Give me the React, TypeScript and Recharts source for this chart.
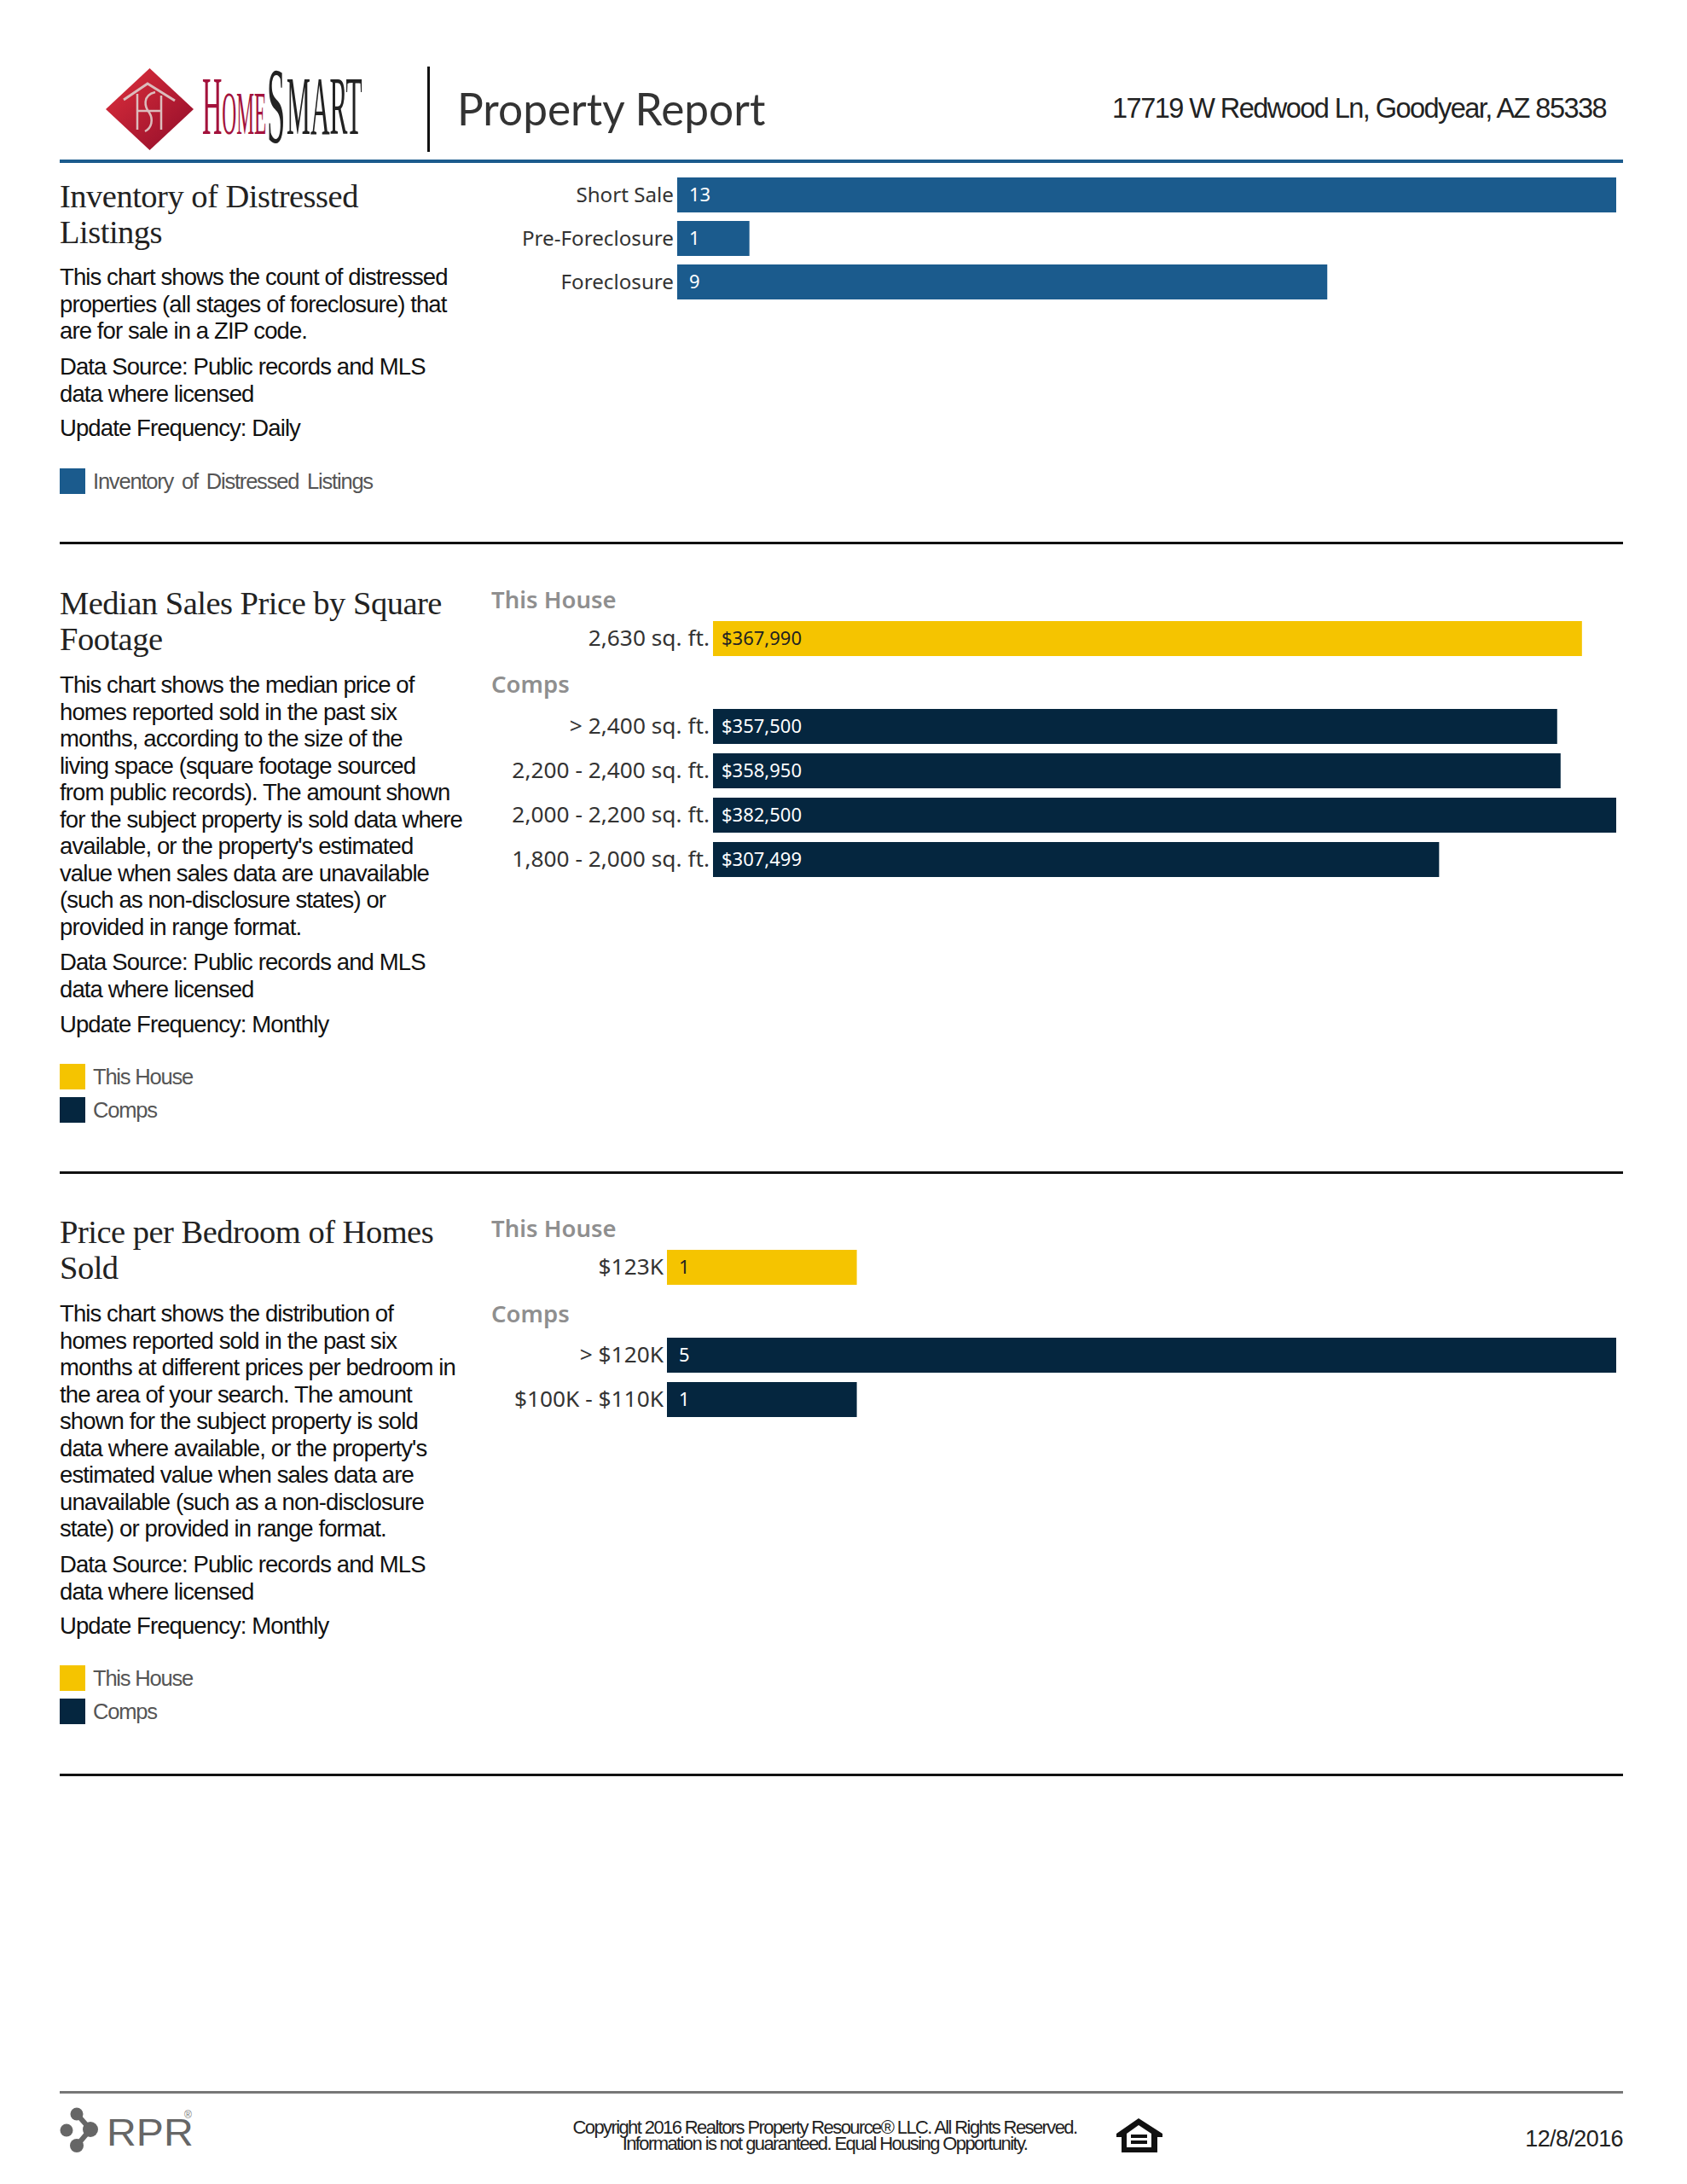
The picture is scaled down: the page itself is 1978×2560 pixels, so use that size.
import React from "react";
import { BarChart, Bar, XAxis, YAxis, LabelList } from "recharts";

const distressedNames = ["Short Sale", "Pre-Foreclosure", "Foreclosure"];
const distressedCounts = [13, 1, 9];

const sqftHouseNames = ["2,630 sq. ft."];
const sqftHousePrices = [367990];
const sqftCompNames = ["> 2,400 sq. ft.", "2,200 - 2,400 sq. ft.", "2,000 - 2,200 sq. ft.", "1,800 - 2,000 sq. ft."];
const sqftCompPrices = [357500, 358950, 382500, 307499];

const bedHouseNames = ["$123K"];
const bedHouseCounts = [1];
const bedCompNames = ["> $120K", "$100K - $110K"];
const bedCompCounts = [5, 1];

const BLUE = "#1b5b8d";
const YELLOW = "#f5c400";
const NAVY = "#05263f";
const SANS = "'Liberation Sans', Arial, sans-serif";
const SERIF = "'Liberation Serif', serif";
const LABEL_FONT = "'Noto Sans', sans-serif";

const money = (v: unknown) => "$" + Number(v).toLocaleString("en-US");

interface HBarsProps {
  top: number;
  axisWidth: number;
  names: string[];
  values: number[];
  max: number;
  fill: string;
  band?: number;
  tickFont?: number;
  labelFill?: string;
  labelOffset?: number;
  format?: (v: unknown) => string;
}

function HBars({ top, axisWidth, names, values, max, fill, band = 52, tickFont = 26.3, labelFill = "#fff", labelOffset = 14, format }: HBarsProps) {
  const data = names.map((name, i) => ({ name, value: values[i] }));
  return (
    <div style={{ position: "absolute", left: 570, top }}>
      <BarChart
        width={1325}
        height={names.length * band}
        data={data}
        layout="vertical"
        margin={{ top: 0, right: 0, bottom: 0, left: 0 }}
      >
        <XAxis type="number" hide domain={[0, max]} />
        <YAxis
          type="category"
          dataKey="name"
          width={axisWidth}
          axisLine={false}
          tickLine={false}
          tickSize={0}
          tickMargin={4}
          interval={0}
          tick={{ fontSize: tickFont, fontFamily: LABEL_FONT, fill: "#333" }}
        />
        <Bar dataKey="value" fill={fill} barSize={41} isAnimationActive={false}>
          <LabelList
            dataKey="value"
            position="insideLeft"
            offset={labelOffset}
            formatter={format}
            style={{ fontSize: 22, fontFamily: LABEL_FONT, fill: labelFill }}
          />
        </Bar>
      </BarChart>
    </div>
  );
}

function Lines({ top, lines, size = 27.5, step = 31.5, spacing = -0.9, font = SANS, color = "#111", left = 70, wordSpacing = 0 }: any) {
  return (
    <>
      {lines.map((line: string, i: number) => (
        <div
          key={i}
          style={{
            position: "absolute",
            left,
            top: top + i * step,
            fontFamily: font,
            fontSize: size,
            lineHeight: `${step}px`,
            letterSpacing: spacing,
            wordSpacing,
            color,
            whiteSpace: "nowrap",
          }}
        >
          {line}
        </div>
      ))}
    </>
  );
}

function Rule({ top, color = "#111", h = 3 }: { top: number; color?: string; h?: number }) {
  return <div style={{ position: "absolute", left: 70, width: 1833, top, height: h, background: color }} />;
}

function Swatch({ top, color, text, wordSpacing = 0 }: { top: number; color: string; text: string; wordSpacing?: number }) {
  return (
    <>
      <div style={{ position: "absolute", left: 70, top, width: 30, height: 30, background: color }} />
      <Lines top={top} left={109} lines={[text]} size={25.5} step={30} color="#555" spacing={-1.2} wordSpacing={wordSpacing} />
    </>
  );
}

function Heading({ top, lines }: { top: number; lines: string[] }) {
  return <Lines top={top} lines={lines} size={38.5} step={42} font={SERIF} spacing={-0.5} color="#222" />;
}

function GroupTitle({ top, text }: { top: number; text: string }) {
  return (
    <div style={{ position: "absolute", left: 576, top, fontFamily: LABEL_FONT, fontWeight: 600, fontSize: 27.5, lineHeight: "34px", color: "#8f8f8f" }}>
      {text}
    </div>
  );
}

function Logo() {
  return (
    <svg style={{ position: "absolute", left: 0, top: 0 }} width={520} height={190}>
      <defs>
        <linearGradient id="dia" x1="0" y1="0" x2="1" y2="1">
          <stop offset="0" stopColor="#e0303c" />
          <stop offset="1" stopColor="#8f0c2a" />
        </linearGradient>
      </defs>
      <polygon points="175.5,80 227,128 175.5,176 124,128" fill="url(#dia)" />
      <path d="M145,117 L173,98 L205,118" fill="none" stroke="#dcbcbc" strokeWidth={3} />
      <g fill="none" stroke="#dcbcbc" strokeWidth={2.5}>
        <path d="M161,110 L161,152" />
        <path d="M189,112 L189,152" />
        <path d="M161,130 L189,130" />
        <path d="M182,108 C166,112 170,126 175,132 C180,140 178,150 170,154" />
      </g>
      <g transform="translate(237,157) scale(0.33,1)" fontFamily={SERIF} fill="#a3123c">
        <text x={0} y={0} fontSize={98}>
          H<tspan fontSize={71}>OME</tspan>
        </text>
      </g>
      <g transform="translate(313,167) scale(0.3,1)" fontFamily={SERIF} fill="#222">
        <text x={0} y={0} fontSize={128}>
          S
        </text>
      </g>
      <g transform="translate(336,157) scale(0.32,1)" fontFamily={SERIF} fill="#222">
        <text x={0} y={0} fontSize={98}>
          MART
        </text>
      </g>
      <rect x={501} y={78} width={3} height={100} fill="#111" />
    </svg>
  );
}

function RprLogo() {
  return (
    <svg style={{ position: "absolute", left: 60, top: 2460 }} width={180} height={70}>
      <g fill="#666">
        <circle cx={30} cy={18} r={7.5} />
        <circle cx={18} cy={37} r={7.5} />
        <circle cx={46} cy={36} r={9} />
        <circle cx={30} cy={55} r={8} />
      </g>
      <path d="M30,18 L46,36 L30,55" fill="none" stroke="#666" strokeWidth={6} />
      <g transform="translate(65,55) scale(1.07,1)">
        <text x={0} y={0} fontFamily={SANS} fontSize={45} fill="#666">
          RPR
        </text>
      </g>
      <text x={156} y={23} fontFamily={SANS} fontSize={12} fill="#777">
        ®
      </text>
    </svg>
  );
}

function HousingIcon() {
  return (
    <svg style={{ position: "absolute", left: 1300, top: 2480 }} width={72} height={50}>
      <path d="M35,3 L63,21 L63,25 L57,25 L57,43 L15,43 L15,25 L9,25 L9,21 Z" fill="#111" />
      <path d="M35,11 L50,21 L50,37 L21,37 L21,21 Z" fill="#fff" />
      <rect x={26} y={22} width={19} height={4} fill="#111" />
      <rect x={26} y={29} width={19} height={4} fill="#111" />
    </svg>
  );
}

export default function App() {
  return (
    <div style={{ position: "absolute", left: 0, top: 0, width: 1978, height: 2560, background: "#fff", overflow: "hidden" }}>
      <Logo />
      <div style={{ position: "absolute", left: 536, top: 92, fontFamily: "Lato, sans-serif", fontSize: 51.4, lineHeight: "70px", color: "#333" }}>
        Property Report
      </div>
      <div style={{ position: "absolute", right: 95, top: 106, fontFamily: SANS, fontSize: 32.5, lineHeight: "42px", letterSpacing: -1.55, color: "#222" }}>
        17719 W Redwood Ln, Goodyear, AZ 85338
      </div>
      <Rule top={187} color={BLUE} h={4} />

      <Heading top={209} lines={["Inventory of Distressed", "Listings"]} />
      <Lines top={309} lines={["This chart shows the count of distressed", "properties (all stages of foreclosure) that", "are for sale in a ZIP code."]} />
      <Lines top={414} lines={["Data Source: Public records and MLS", "data where licensed"]} />
      <Lines top={486} lines={["Update Frequency: Daily"]} />
      <Swatch top={549} color={BLUE} text="Inventory of Distressed Listings" wordSpacing={4} />
      <HBars top={203} axisWidth={224} names={distressedNames} values={distressedCounts} max={13} fill={BLUE} band={51} tickFont={24.2} />
      <Rule top={635} />

      <Heading top={686} lines={["Median Sales Price by Square", "Footage"]} />
      <Lines
        top={787}
        lines={[
          "This chart shows the median price of",
          "homes reported sold in the past six",
          "months, according to the size of the",
          "living space (square footage sourced",
          "from public records). The amount shown",
          "for the subject property is sold data where",
          "available, or the property's estimated",
          "value when sales data are unavailable",
          "(such as non-disclosure states) or",
          "provided in range format.",
        ]}
      />
      <Lines top={1112} lines={["Data Source: Public records and MLS", "data where licensed"]} />
      <Lines top={1185} lines={["Update Frequency: Monthly"]} />
      <Swatch top={1247} color={YELLOW} text="This House" />
      <Swatch top={1286} color={NAVY} text="Comps" />
      <GroupTitle top={686} text="This House" />
      <HBars top={722} axisWidth={266} names={sqftHouseNames} values={sqftHousePrices} max={382500} fill={YELLOW} labelFill="#222" labelOffset={10} format={money} />
      <GroupTitle top={785} text="Comps" />
      <HBars top={825} axisWidth={266} names={sqftCompNames} values={sqftCompPrices} max={382500} fill={NAVY} labelOffset={10} format={money} />
      <Rule top={1373} />

      <Heading top={1423} lines={["Price per Bedroom of Homes", "Sold"]} />
      <Lines
        top={1524}
        lines={[
          "This chart shows the distribution of",
          "homes reported sold in the past six",
          "months at different prices per bedroom in",
          "the area of your search. The amount",
          "shown for the subject property is sold",
          "data where available, or the property's",
          "estimated value when sales data are",
          "unavailable (such as a non-disclosure",
          "state) or provided in range format.",
        ]}
      />
      <Lines top={1818} lines={["Data Source: Public records and MLS", "data where licensed"]} />
      <Lines top={1890} lines={["Update Frequency: Monthly"]} />
      <Swatch top={1952} color={YELLOW} text="This House" />
      <Swatch top={1991} color={NAVY} text="Comps" />
      <GroupTitle top={1423} text="This House" />
      <HBars top={1459} axisWidth={212} names={bedHouseNames} values={bedHouseCounts} max={5} fill={YELLOW} labelFill="#222" />
      <GroupTitle top={1523} text="Comps" />
      <HBars top={1562} axisWidth={212} names={bedCompNames} values={bedCompCounts} max={5} fill={NAVY} />
      <Rule top={2079} />

      <Rule top={2451} color="#777" h={3} />
      <RprLogo />
      <div style={{ position: "absolute", left: 567, width: 800, top: 2484, textAlign: "center", fontFamily: SANS, fontSize: 22, lineHeight: "19px", letterSpacing: -1.6, color: "#222" }}>
        Copyright 2016 Realtors Property Resource® LLC. All Rights Reserved.
        <br />
        Information is not guaranteed. Equal Housing Opportunity.
      </div>
      <HousingIcon />
      <div style={{ position: "absolute", right: 75, top: 2491, fontFamily: SANS, fontSize: 27, lineHeight: "32px", letterSpacing: -0.6, color: "#222" }}>
        12/8/2016
      </div>
    </div>
  );
}
